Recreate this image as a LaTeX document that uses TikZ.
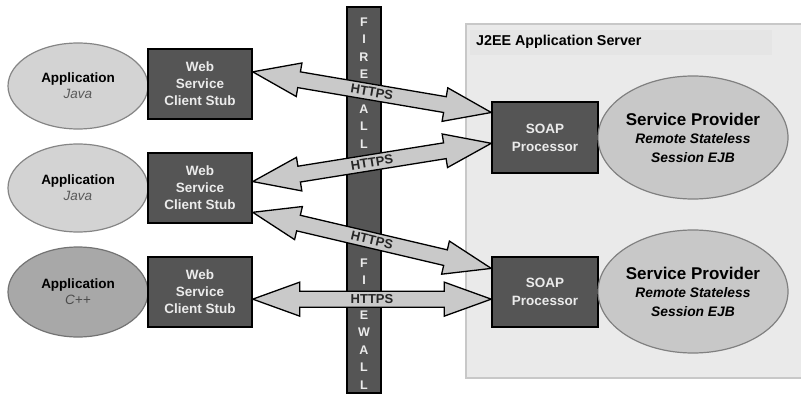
\documentclass[tikz,border=0pt]{standalone}
\usepackage{fontspec}
\setmainfont{Liberation Sans}
\usetikzlibrary{shapes.geometric,calc}
\definecolor{boxgray}{HTML}{555555}
\definecolor{lightell}{HTML}{D3D3D3}
\definecolor{midell}{HTML}{A8A8A8}
\definecolor{spell}{HTML}{C8C8C8}
\definecolor{arrowfill}{HTML}{C9C9C9}
\definecolor{srvfill}{HTML}{EAEAEA}
\definecolor{srvline}{HTML}{C8C8C8}
\definecolor{titlefill}{HTML}{E5E5E5}
\def\hl{47pt}
\def\hw{17pt}
\def\sw{8pt}
\newcommand\fatarrow[2]{%
  \draw[fatarrowstyle] (#1)
    -- ($(#1)!\hl!(#2)!\hw!90:(#2)$)
    -- ($(#1)!\hl!(#2)!\sw!90:(#2)$)
    -- ($(#2)!\hl!(#1)!\sw!-90:(#1)$)
    -- ($(#2)!\hl!(#1)!\hw!-90:(#1)$)
    -- (#2)
    -- ($(#2)!\hl!(#1)!\hw!90:(#1)$)
    -- ($(#2)!\hl!(#1)!\sw!90:(#1)$)
    -- ($(#1)!\hl!(#2)!\sw!-90:(#2)$)
    -- ($(#1)!\hl!(#2)!\hw!-90:(#2)$)
    -- cycle;
  \path (#1) -- (#2) node[midway, sloped, httpslabel] {HTTPS};
}
\begin{document}
\begin{tikzpicture}[x=1pt,y=-1pt,
  appell/.style={ellipse, draw=black!48, line width=1.2pt, fill=lightell,
    minimum width=140pt, minimum height=86pt, inner sep=0pt, align=center,
    font=\fontsize{13.5}{16}\selectfont},
  stubbox/.style={rectangle, draw=black, line width=1.5pt, fill=boxgray,
    text=white!92!black, align=center, inner sep=0pt,
    font=\bfseries\fontsize{13.5}{17}\selectfont},
  spellipse/.style={ellipse, draw=black!50, line width=1.2pt, fill=spell,
    minimum width=190pt, minimum height=123pt, inner sep=0pt, align=center,
    font=\fontsize{13.8}{18.5}\selectfont},
  fatarrowstyle/.style={draw=black, line width=1.3pt, fill=arrowfill, line join=miter},
  httpslabel/.style={font=\bfseries\fontsize{13}{15}\selectfont, text=black!85, inner sep=0pt},
  fwletter/.style={font=\bfseries\fontsize{12.5}{14}\selectfont, text=white!92!black, inner sep=0pt}
]
\useasboundingbox (0,0) rectangle (801,396);

% J2EE container
\node[rectangle, draw=srvline, line width=1.5pt, fill=srvfill,
  minimum width=340pt, minimum height=354pt, inner sep=0pt] (j2ee) at (636,201) {};
\node[rectangle, fill=titlefill, minimum width=302pt, minimum height=25pt, inner sep=0pt] (titlebar) at (621,42.5) {};
\node[anchor=west, font=\bfseries\fontsize{14.3}{16}\selectfont, inner sep=0pt] (j2eetitle) at (476,42) {J2EE Application Server};

% firewall (letters hidden behind the arrows are not printed)
\node[rectangle, draw=black, line width=1.3pt, fill=boxgray,
  minimum width=34pt, minimum height=386pt, inner sep=0pt] (fw) at (364,200) {};
\foreach \c/\i in {F/1,I/2,R/3,E/4,A/6,L/7,L/8} {
  \node[fwletter] (fwa\i) at (364,{22+17.4*(\i-1)}) {\c};
}
\foreach \c/\i in {F/1,I/2,E/4,W/5,A/6,L/7,L/8} {
  \node[fwletter] (fwb\i) at (364,{263+17.4*(\i-1)}) {\c};
}

% clients
\node[appell] (app1) at (78,86) {\textbf{Application}\\\textcolor{black!65}{\itshape Java}};
\node[appell, minimum height=88pt] (app2) at (78,188) {\textbf{Application}\\\textcolor{black!65}{\itshape Java}};
\node[appell, fill=midell, draw=black!55, minimum height=90pt] (app3) at (78,292) {\textbf{Application}\\\textcolor{black!70}{\itshape C++}};

\node[stubbox, minimum width=104pt, minimum height=70pt] (ws1) at (200,84) {Web\\Service\\Client Stub};
\node[stubbox, minimum width=104pt, minimum height=70pt] (ws2) at (200,188) {Web\\Service\\Client Stub};
\node[stubbox, minimum width=104pt, minimum height=70pt] (ws3) at (200,292) {Web\\Service\\Client Stub};

% server side
\node[stubbox, minimum width=106pt, minimum height=71pt, font=\bfseries\fontsize{13.5}{18}\selectfont] (soap1) at (545,137.5) {SOAP\\Processor};
\node[stubbox, minimum width=106pt, minimum height=70pt, font=\bfseries\fontsize{13.5}{18}\selectfont] (soap2) at (545,292) {SOAP\\Processor};

\node[spellipse] (sp1) at (693,137.5) {\textbf{\fontsize{17}{18.5}\selectfont Service Provider}\\\textbf{\itshape Remote Stateless}\\\textbf{\itshape Session EJB}};
\node[spellipse] (sp2) at (693,291.5) {\textbf{\fontsize{17}{18.5}\selectfont Service Provider}\\\textbf{\itshape Remote Stateless}\\\textbf{\itshape Session EJB}};

% arrow end points
\coordinate (a1s) at ($(ws1.north east)!0.33!(ws1.south east)$);
\coordinate (a1e) at ($(soap1.north west)!0.155!(soap1.south west)$);
\coordinate (a2s) at ($(ws2.north east)!0.41!(ws2.south east)$);
\coordinate (a2e) at ($(soap1.north west)!0.58!(soap1.south west)$);
\coordinate (a3s) at ($(ws2.north east)!0.84!(ws2.south east)$);
\coordinate (a3e) at ($(soap2.north west)!0.17!(soap2.south west)$);
\coordinate (a4s) at ($(ws3.north east)!0.6!(ws3.south east)$);
\coordinate (a4e) at ($(soap2.north west)!0.6!(soap2.south west)$);

\fatarrow{a1s}{a1e}
\fatarrow{a2s}{a2e}
\fatarrow{a3s}{a3e}
\fatarrow{a4s}{a4e}
\end{tikzpicture}
\end{document}
